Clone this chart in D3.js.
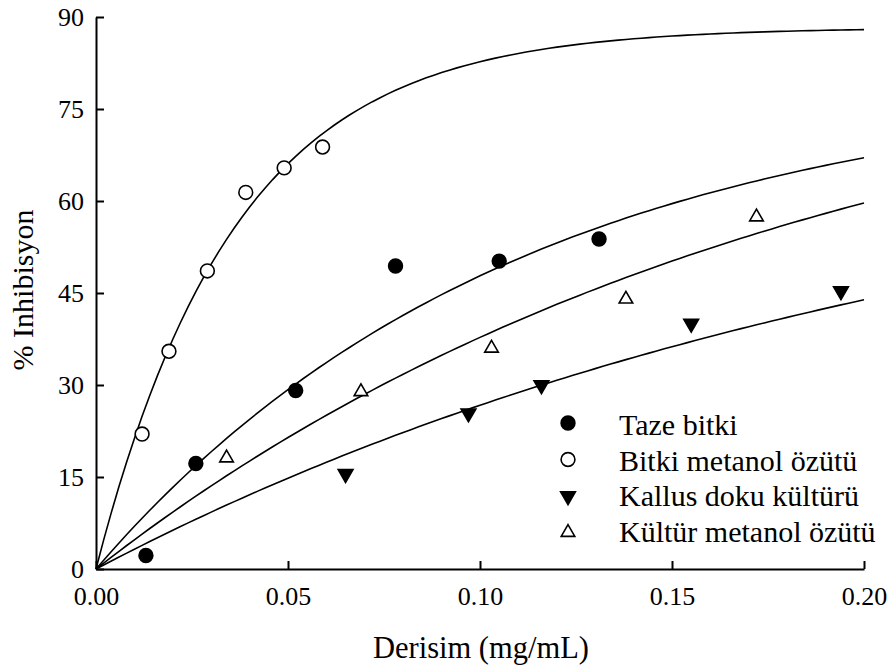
<!DOCTYPE html>
<html>
<head>
<meta charset="utf-8">
<script src="https://cdn.jsdelivr.net/npm/d3@7"></script>
<style>
  body { margin: 0; background: #fff; }
</style>
</head>
<body>
<svg id="chart" width="890" height="666"></svg>
<script>
// series names (legend order)
const SERIES = ["Taze bitki", "Bitki metanol özütü", "Kallus doku kültürü", "Kültür metanol özütü"]

// measured points, [concentration mg/mL, % inhibition]
const tazeBitki = [[0.013, 2.2], [0.026, 17.2], [0.052, 29.1], [0.078, 49.4], [0.105, 50.2], [0.131, 53.8]]
const bitkiMetanol = [[0.012, 22.0], [0.019, 35.5], [0.029, 48.6], [0.039, 61.4], [0.049, 65.4], [0.059, 68.8]]
const kallusDoku = [[0.065, 15.5], [0.097, 25.4], [0.116, 30.0], [0.155, 40.0], [0.194, 45.3]]
const kulturMetanol = [[0.034, 18.1], [0.069, 28.9], [0.103, 36.0], [0.138, 44.0], [0.172, 57.4]]

// fitted curve parameters y = a*(1-exp(-b*x))
const fitA = [80, 88.3, 75, 90]
const fitB = [9.1, 27.6, 4.4, 5.44]

const xTicks = [0, 0.05, 0.10, 0.15, 0.20]
const yTicks = [0, 15, 30, 45, 60, 75, 90]

const FONT = "Liberation Serif"

const svg = d3.select("#chart")
const x = d3.scaleLinear().domain([0, 0.20]).range([96, 864])
const y = d3.scaleLinear().domain([0, 90]).range([569, 17])

//axes - ticks point inward
let gx = svg.append("g").attr("transform", `translate(0,${y(0)})`)
  .call(d3.axisBottom(x).tickValues(xTicks).tickFormat(d3.format(".2f")).tickSizeInner(-8).tickSizeOuter(0).tickPadding(18))
let gy = svg.append("g").attr("transform", `translate(${x(0)},0)`)
  .call(d3.axisLeft(y).tickValues(yTicks).tickSizeInner(-8).tickSizeOuter(0).tickPadding(12))
svg.selectAll(".domain, .tick line").attr("stroke", "#000").attr("stroke-width", 2)
;[gx, gy].forEach(g => g.attr("font-family", FONT).attr("font-size", 26))
svg.selectAll(".tick text").attr("fill", "#000")

//axis titles
svg.append("text").attr("x", 481).attr("y", 658).attr("text-anchor", "middle")
  .attr("font-family", FONT).attr("font-size", 30.5).text("Derisim (mg/mL)")
svg.append("text").attr("transform", "translate(33,290) rotate(-90)").attr("text-anchor", "middle")
  .attr("font-family", FONT).attr("font-size", 30).text("% Inhibisyon")

//fitted curves
let line = d3.line().x(d => x(d[0])).y(d => y(d[1]))
fitA.forEach((a, i) => {
  let pts = d3.range(0, 0.2001, 0.002).map(v => [v, a * (1 - Math.exp(-fitB[i] * v))])
  svg.append("path").attr("d", line(pts)).attr("fill", "none")
    .attr("stroke", "#000").attr("stroke-width", 1.6)
})

//marker symbols
const MARKS = [
  { type: d3.symbolCircle, size: 150, fill: "#000", rot: 0 },
  { type: d3.symbolCircle, size: 150, fill: "#fff", rot: 0 },
  { type: d3.symbolTriangle, size: 95, fill: "#000", rot: 180 },
  { type: d3.symbolTriangle, size: 80, fill: "#fff", rot: 0 },
]
let drawMark = (g, i, px, py) => {
  let m = MARKS[i]
  g.append("path").attr("d", d3.symbol().type(m.type).size(m.size)())
    .attr("transform", `translate(${px},${py}) rotate(${m.rot})`)
    .attr("fill", m.fill).attr("stroke", "#000").attr("stroke-width", 1.6)
}

let gPts = svg.append("g")
;[tazeBitki, bitkiMetanol, kallusDoku, kulturMetanol].forEach((data, i) => {
  data.forEach(d => drawMark(gPts, i, x(d[0]), y(d[1])))
})

//legend
let gLeg = svg.append("g")
SERIES.forEach((name, i) => {
  drawMark(gLeg, i, 568, 423 + i * 36.5)
  gLeg.append("text").attr("x", 619).attr("y", 435 + i * 35.7).attr("font-family", FONT)
    .attr("font-size", 30).text(name)
})
</script>
</body>
</html>
